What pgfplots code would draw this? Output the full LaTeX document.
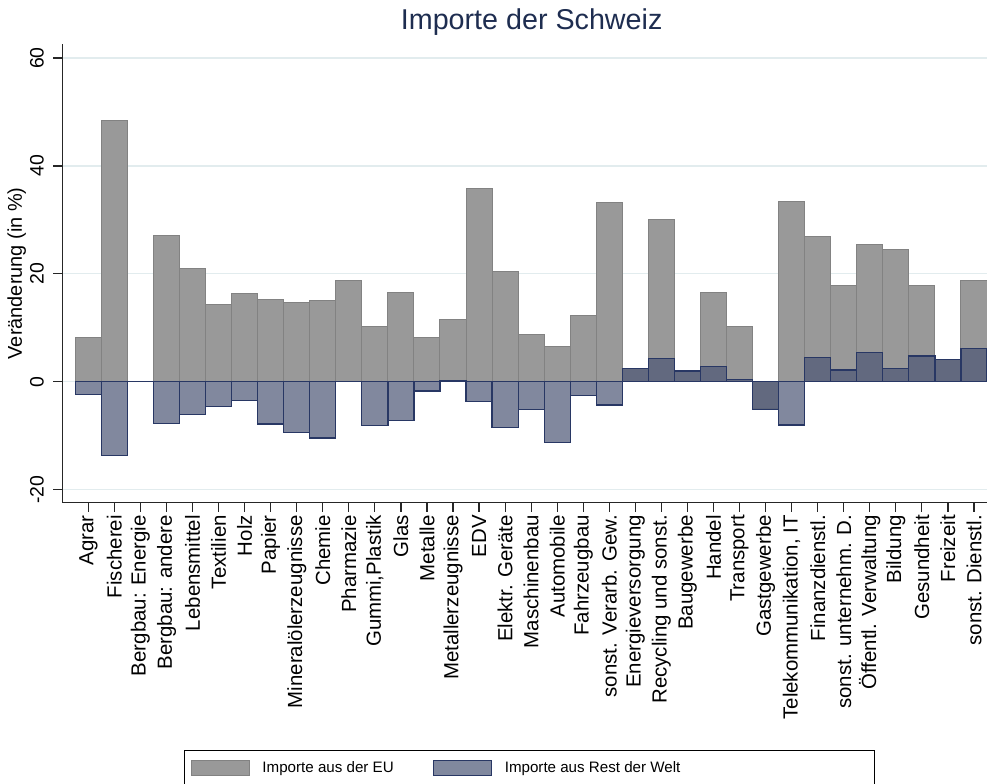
\documentclass[border=0pt]{standalone}
\usepackage{pgfplots}
\pgfplotsset{compat=1.18}
\usepackage{fontspec}
\setmainfont{Liberation Sans}
\definecolor{eugray}{RGB}{153,153,153}
\definecolor{euedge}{RGB}{130,130,130}
\definecolor{rowfill}{RGB}{75,86,117}
\definecolor{rowedge}{RGB}{40,55,100}
\definecolor{gridc}{RGB}{226,236,238}
\definecolor{titlec}{RGB}{30,45,80}
\pgfplotsset{mylegimg/.style={legend image code/.code={\draw[##1] (0bp,-7.5bp) rectangle (57.7bp,7.5bp);}}}
\begin{document}
\begin{tikzpicture}
\begin{axis}[
  name=ax,
  scale only axis, width=924.7bp, height=458.7bp,
  xmin=-1, xmax=34.5, ymin=-22.4, ymax=62.6,
  axis x line*=bottom, axis y line*=left,
  axis line style={-, draw=black!85, line width=1.2bp},
  xtick={0,...,34},
  xticklabels={Agrar,Fischerei,Bergbau: Energie,Bergbau: andere,Lebensmittel,Textilien,Holz,Papier,Mineralölerzeugnisse,Chemie,Pharmazie,{Gummi,Plastik},Glas,Metalle,Metallerzeugnisse,EDV,Elektr. Geräte,Maschinenbau,Automobile,Fahrzeugbau,sonst. Verarb. Gew.,Energieversorgung,Recycling und sonst.,Baugewerbe,Handel,Transport,Gastgewerbe,{Telekommunikation, IT},Finanzdienstl.,sonst. unternehm. D.,Öffentl. Verwaltung,Bildung,Gesundheit,Freizeit,sonst. Dienstl.},
  ytick={-20,0,20,40,60},
  ymajorgrids, grid style={gridc, line width=1.2bp},
  tick align=outside, major tick length=9bp,
  tick style={black!85, line width=1.2bp},
  xticklabel style={rotate=90, anchor=east, font=\fontsize{20.5}{23}\selectfont},
  yticklabel style={rotate=90, anchor=south, font=\fontsize{19.5}{22}\selectfont},
  yticklabel shift=6bp,
  /pgf/number format/assume math mode=true,
  ylabel={Veränderung (in \%)},
  every axis y label/.style={at={(axis description cs:0,0.5)}, rotate=90, anchor=center, yshift=45.6bp, font=\fontsize{20}{23}\selectfont},
  title={Importe der Schweiz},
  title style={font=\fontsize{28.8}{32}\selectfont, color=titlec, at={(axis description cs:0.5,1)}, anchor=base, yshift=9bp, xshift=7bp},
  legend columns=2,
  legend style={at={(axis description cs:0.1316,-0.5391)}, anchor=north west,
    draw=black, line width=0.8bp, inner xsep=6.7bp, inner ysep=9.3bp,
    font=\fontsize{15.2}{18}\selectfont,
    nodes={inner xsep=0pt, inner ysep=0pt},
    /tikz/every odd column/.append style={column sep=12.7bp},
    /tikz/every even column/.append style={column sep=20.7bp}},
]
\addplot[ybar, bar width=1, bar shift=0pt, fill=eugray, draw=euedge, line width=1bp, mylegimg] coordinates {
(0,8.2) (1,48.4) (2,0) (3,27.2) (4,21.0) (5,14.4) (6,16.3) (7,15.3) (8,14.7) (9,15.0)
(10,18.7) (11,10.3) (12,16.5) (13,8.2) (14,11.6) (15,35.9) (16,20.4) (17,8.7) (18,6.6) (19,12.3)
(20,33.2) (21,2.5) (22,30.1) (23,2.0) (24,16.6) (25,10.3) (26,-5.0) (27,33.5) (28,27.0) (29,17.9)
(30,25.5) (31,24.5) (32,17.9) (33,4.2) (34,18.8)};
\addlegendentry{\makebox[150bp][l]{Importe aus der EU}}
\addplot[ybar, bar width=1, bar shift=0pt, fill=rowfill, fill opacity=0.7, draw=rowedge, line width=1.2bp, mylegimg] coordinates {
(0,-2.3) (1,-13.7) (2,0) (3,-7.7) (4,-6.0) (5,-4.6) (6,-3.5) (7,-7.8) (8,-9.4) (9,-10.4)
(10,0) (11,-8.1) (12,-7.2) (13,-1.7) (14,0.3) (15,-3.6) (16,-8.5) (17,-5.1) (18,-11.2) (19,-2.6)
(20,-4.3) (21,2.5) (22,4.3) (23,2.0) (24,2.9) (25,0.5) (26,-5.1) (27,-8.0) (28,4.5) (29,2.2)
(30,5.4) (31,2.4) (32,4.8) (33,4.2) (34,6.2)};
\addlegendentry{\makebox[362.7bp][l]{Importe aus Rest der Welt}}
\end{axis}
\pgfresetboundingbox
\path[use as bounding box] ([shift={(-62.3bp,-281.3bp)}]ax.south west) rectangle ([shift={(924.7bp,502.7bp)}]ax.south west);
\end{tikzpicture}
\end{document}
